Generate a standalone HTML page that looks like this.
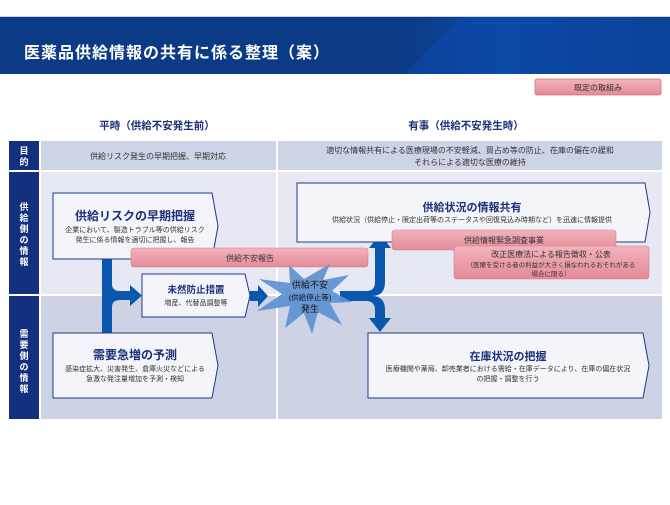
<!DOCTYPE html>
<html><head><meta charset="utf-8"><style>
body{margin:0;width:670px;height:500px;background:#fff;overflow:hidden;font-family:"Liberation Sans","Noto Sans CJK JP",sans-serif}
svg text{font-family:"Liberation Sans","Noto Sans CJK JP",sans-serif}
</style></head><body>
<svg width="670" height="500" viewBox="0 0 670 500">
<defs>
<linearGradient id="hg" x1="0" x2="1" y1="0" y2="0">
<stop offset="0" stop-color="#0b3a86"/><stop offset="0.6" stop-color="#0b3a86"/><stop offset="0.75" stop-color="#0d4aa6"/><stop offset="1" stop-color="#0b3a86"/></linearGradient>
<linearGradient id="pk" x1="0" x2="0" y1="0" y2="1"><stop offset="0" stop-color="#f2b3bd"/><stop offset="1" stop-color="#e48a98"/></linearGradient>
</defs>
<rect x="0" y="16" width="670" height="1" fill="#c8d3e6"/>
<rect x="0" y="17" width="670" height="57" fill="url(#hg)"/>
<polygon points="460,17 670,17 670,74 405,74" fill="#0e4aa8" opacity="0.6"/>
<text x="24" y="58" fill="#fff" font-size="16" font-weight="bold" letter-spacing="1">医薬品供給情報の共有に係る整理（案）</text>
<rect x="535" y="79" width="126" height="16" rx="2" fill="url(#pk)" stroke="#d9707f" stroke-width="0.8"/>
<text x="598" y="90.5" font-size="8" text-anchor="middle" fill="#333">既定の取組み</text>
<text x="157" y="129" font-size="10.5" font-weight="bold" text-anchor="middle" fill="#1b2f7a">平時（供給不安発生前）</text>
<text x="466" y="129" font-size="10.5" font-weight="bold" text-anchor="middle" fill="#1b2f7a">有事（供給不安発生時）</text>
<!-- table -->
<rect x="9" y="141" width="30" height="29" fill="#12307e"/>
<rect x="9" y="172" width="30" height="122" fill="#12307e"/>
<rect x="9" y="296" width="30" height="123" fill="#12307e"/>
<rect x="41" y="141" width="235" height="29" fill="#cdd4e5"/>
<rect x="278" y="141" width="384" height="29" fill="#cdd4e5"/>
<rect x="41" y="172" width="235" height="122" fill="#e6e9f3"/>
<rect x="278" y="172" width="384" height="122" fill="#e6e9f3"/>
<rect x="41" y="296" width="235" height="123" fill="#cdd2e4"/>
<rect x="278" y="296" width="384" height="123" fill="#cdd2e4"/>
<g fill="#fff" font-size="9" font-weight="bold" text-anchor="middle">
<text x="24" y="154">目</text><text x="24" y="165">的</text>
<text x="24" y="210">供</text><text x="24" y="221">給</text><text x="24" y="232">側</text><text x="24" y="243">の</text><text x="24" y="254">情</text><text x="24" y="265">報</text>
<text x="24" y="337">需</text><text x="24" y="348">要</text><text x="24" y="359">側</text><text x="24" y="370">の</text><text x="24" y="381">情</text><text x="24" y="392">報</text>
</g>
<text x="158" y="159" font-size="8" text-anchor="middle" fill="#333">供給リスク発生の早期把握、早期対応</text>
<text x="470" y="153" font-size="8" text-anchor="middle" fill="#333">適切な情報共有による医療現場の不安軽減、買占め等の防止、在庫の偏在の緩和</text>
<text x="470" y="165" font-size="8" text-anchor="middle" fill="#333">それらによる適切な医療の維持</text>
<!-- blue connectors left -->
<path d="M102 259 V333 H112 V307 Q112 300 120 300 H130 V306 L142 295.5 L130 285 V291 H120 Q112 291 112 284 V259 Z" fill="#0a57b0"/>
<path d="M250 291 H258 V285 L268 296 L258 307 V301 H250 Z" fill="#0a57b0"/>
<!-- right connectors -->
<path d="M340 291 H366 Q375 291 375 282 V248 H369 L380 234 L391 248 H385 V282 Q385 296 372 296 Q385 296 385 310 V318 H391 L380 332 L369 318 H375 V310 Q375 301 366 301 H340 Z" fill="#0a57b0"/>
<!-- boxes -->
<g fill="#f3f5fa" stroke="#1b3a8c" stroke-width="1">
<polygon points="53,193 212,193 218,226 212,259 53,259"/>
<polygon points="142,274 245,274 250,295.5 245,317 142,317"/>
<polygon points="53,333 212,333 218,365.5 212,398 53,398"/>
<polygon points="297,183 645,183 650,212.5 645,242 297,242"/>
<polygon points="368,333 643,333 649,365.5 643,398 368,398"/>
</g>
<rect x="131" y="248" width="237" height="19" rx="3" fill="url(#pk)" stroke="#e07a8a" stroke-width="0.6"/>
<text x="250" y="261" font-size="8" text-anchor="middle" fill="#333">供給不安報告</text>
<rect x="392" y="230" width="224" height="20" rx="3" fill="url(#pk)" stroke="#e07a8a" stroke-width="0.6"/>
<text x="504" y="243" font-size="8" text-anchor="middle" fill="#333">供給情報緊急調査事業</text>
<rect x="454" y="246" width="195" height="33" rx="3" fill="url(#pk)" stroke="#e07a8a" stroke-width="0.6"/>
<text x="551" y="257" font-size="8" text-anchor="middle" fill="#333">改正医療法による報告徴収・公表</text>
<text x="551" y="267" font-size="6.5" text-anchor="middle" fill="#333">（医療を受ける者の利益が大きく損なわれるおそれがある</text>
<text x="551" y="276" font-size="6.5" text-anchor="middle" fill="#333">場合に限る）</text>
<!-- star -->
<polygon points="330,264 323,280 349,275 332,291 352,302 330,303 342,325 318,312 312,334 304,313 285,328 290,306 257,311 282,294 259,279 290,283 289,265 304,279" fill="#5b8fd0" opacity="0.9"/>
<text x="310" y="288" font-size="9" text-anchor="middle" fill="#111">供給不安</text>
<text x="310" y="300" font-size="7.5" text-anchor="middle" fill="#111">(供給停止等)</text>
<text x="310" y="312" font-size="9" text-anchor="middle" fill="#111">発生</text>
<!-- box texts -->
<g text-anchor="middle" fill="#1b2f7a" font-weight="bold">
<text x="135" y="220" font-size="12">供給リスクの早期把握</text>
<text x="196" y="293" font-size="9.5">未然防止措置</text>
<text x="135" y="359" font-size="12">需要急増の予測</text>
<text x="472" y="211" font-size="11">供給状況の情報共有</text>
<text x="508" y="360" font-size="11">在庫状況の把握</text>
</g>
<g text-anchor="middle" fill="#333" font-size="7">
<text x="135" y="232">企業において、製造トラブル等の供給リスク</text>
<text x="135" y="242">発生に係る情報を適切に把握し、報告</text>
<text x="196" y="305">増産、代替品調整等</text>
<text x="135" y="371">感染症拡大、災害発生、倉庫火災などによる</text>
<text x="135" y="381">急激な発注量増加を予測・検知</text>
<text x="472" y="222">供給状況（供給停止・限定出荷等のステータスや回復見込み時期など）を迅速に情報提供</text>
<text x="508" y="371">医療機関や薬局、卸売業者における需給・在庫データにより、在庫の偏在状況</text>
<text x="508" y="381">の把握・調整を行う</text>
</g>
</svg>
</body></html>
